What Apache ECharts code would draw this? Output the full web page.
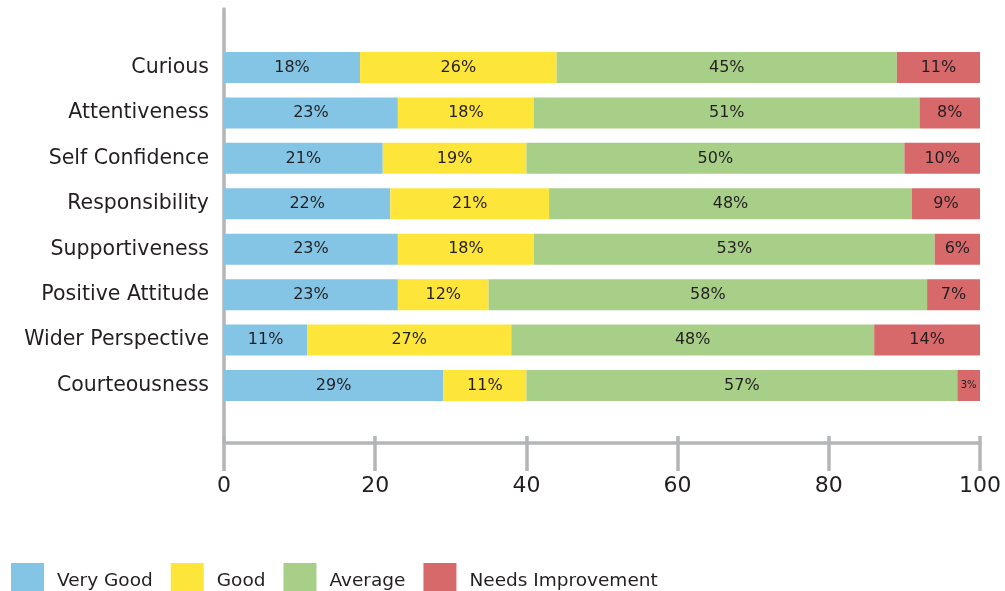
<!DOCTYPE html>
<html><head><meta charset="utf-8">
<script src="https://cdn.jsdelivr.net/npm/echarts@6/dist/echarts.min.js"></script>
<style>html,body{margin:0;padding:0;background:#fff}#c{width:1005px;height:591px}</style>
</head><body><div id="c"></div>
<script>
const categories = ['Curious','Attentiveness','Self Confidence','Responsibility','Supportiveness','Positive Attitude','Wider Perspective','Courteousness'];
const veryGood = [18,23,21,22,23,23,11,29];
const good = [26,18,19,21,18,12,27,11];
const average = [45,51,50,48,53,58,48,57];
const needsImprovement = [11,8,10,9,6,7,14,3];
const seriesNames = ['Very Good','Good','Average','Needs Improvement'];
const xTicks = [0,20,40,60,80,100];

const colors = ['#84C5E6','#FEE539','#A8CF88','#D7696B'];
const FONT = 'DejaVu Sans';
const AX = '#b4b5b7';
const TXT = '#231f20';

const chart = echarts.init(document.getElementById('c'), null, {renderer:'canvas'});
const mk = (name, vals, color) => ({
  name, type:'bar', stack:'total', xAxisIndex:0, yAxisIndex:0, barWidth:31,
  itemStyle:{color},
  label:{show:true, position:'inside', formatter:'{c}%', color:TXT, fontFamily:FONT, fontSize:16},
  data: vals.map(v => v < 5 ? {value:v, label:{fontSize:10}} : v)
});
chart.setOption({
  animation:false,
  color: colors,
  grid:[
    {left:224, right:25, top:44.8, height:363.4},
    {left:224, right:25, top:9, bottom:148}
  ],
  legend:{
    data: seriesNames, left:11, top:563, padding:0, itemWidth:33, itemHeight:36, itemGap:18,
    icon:'rect',
    textStyle:{fontFamily:FONT, fontSize:18.5, color:TXT, padding:[0,0,0,8]}
  },
  xAxis:[
    {gridIndex:0, type:'value', min:0, max:100, show:false},
    {gridIndex:1, type:'value', min:0, max:100, interval:20, position:'bottom',
     axisLine:{show:true, lineStyle:{color:AX, width:3.5}},
     axisTick:{show:true, length:28, lineStyle:{color:AX, width:3.5}},
     splitLine:{show:false},
     axisLabel:{margin:32, color:TXT, fontFamily:FONT, fontSize:22,
       formatter: v => xTicks.includes(v) ? String(v) : ''}},
    {gridIndex:1, type:'value', min:0, max:100, interval:20, position:'bottom',
     axisLine:{show:false},
     axisTick:{show:true, inside:true, length:7, lineStyle:{color:AX, width:3.5}},
     splitLine:{show:false}, axisLabel:{show:false}}
  ],
  yAxis:[
    {gridIndex:0, type:'category', data:categories, inverse:true,
     axisLine:{show:false}, axisTick:{show:false},
     axisLabel:{margin:15, color:TXT, fontFamily:FONT, fontSize:20.5}},
    {gridIndex:1, type:'value', min:0, max:1, position:'left',
     axisLine:{show:true, lineStyle:{color:AX, width:3.5}},
     axisTick:{show:false}, axisLabel:{show:false}, splitLine:{show:false}}
  ],
  series:[
    mk(seriesNames[0], veryGood, colors[0]),
    mk(seriesNames[1], good, colors[1]),
    mk(seriesNames[2], average, colors[2]),
    mk(seriesNames[3], needsImprovement, colors[3])
  ]
});
</script></body></html>
